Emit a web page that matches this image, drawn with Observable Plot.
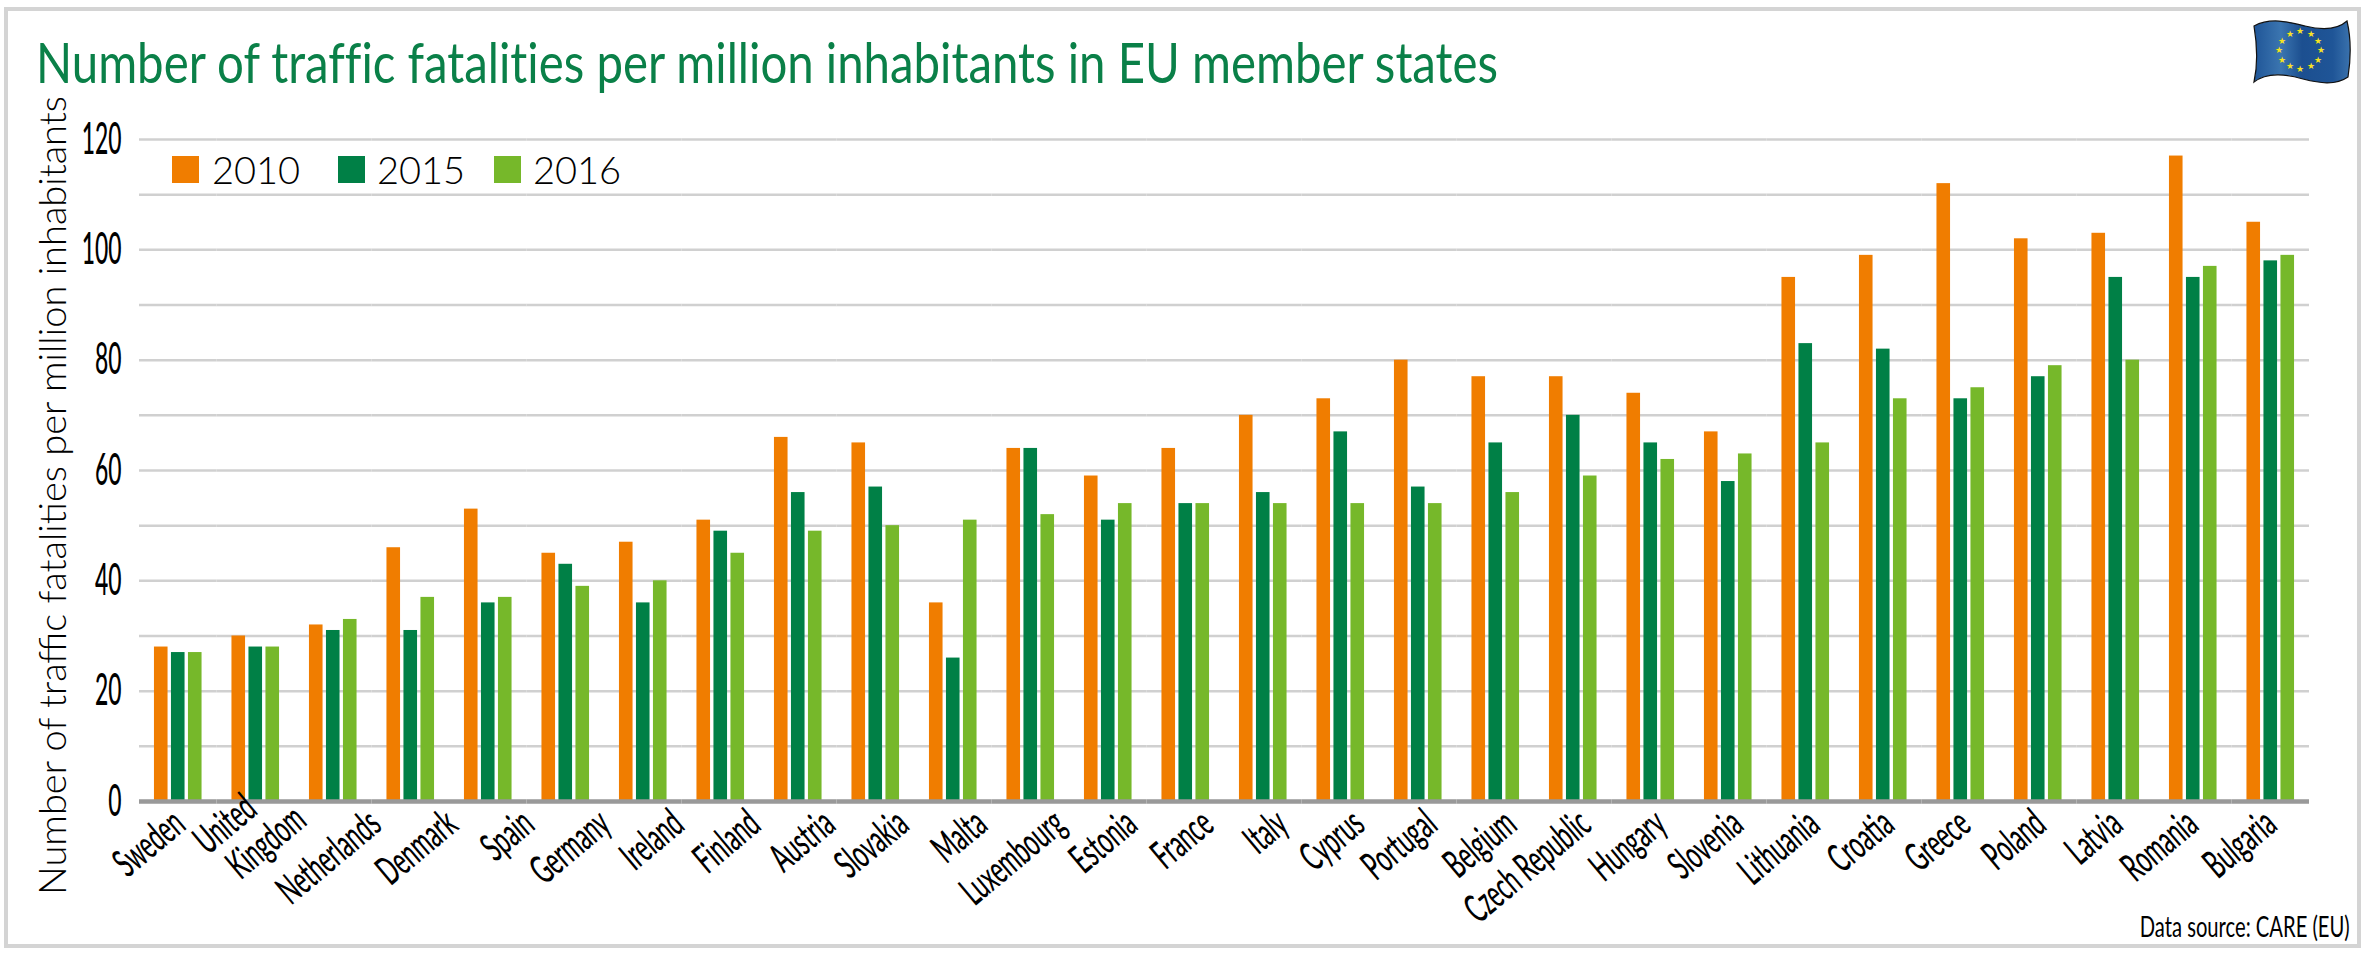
<!DOCTYPE html>
<html>
<head>
<meta charset="utf-8">
<script src="https://cdn.jsdelivr.net/npm/d3@7"></script>
<script src="https://cdn.jsdelivr.net/npm/@observablehq/plot@0.6"></script>
<style>
  html, body { margin: 0; background: #fff; }
  #page { position: relative; width: 2365px; height: 956px; overflow: hidden; font-family: Lato, sans-serif; }
  #frame { position: absolute; left: 4px; top: 7px; width: 2349px; height: 933px; border: 4px solid #d4d4d4; }
  #title { position: absolute; left: 36px; top: 28px; margin: 0; font-size: 56px; line-height: 68px; font-weight: 400; color: #0a8048; white-space: nowrap; transform-origin: left center; font-variant-ligatures: none; }
  #chart { position: absolute; left: 0; top: 100px; }
  #legend span { position: absolute; }
  #legend .sw { top: 156px; width: 27px; height: 27px; }
  #legend .lb { top: 146px; font-size: 38px; line-height: 46px; font-weight: 300; color: #000; }
  #source { position: absolute; right: 15px; top: 908px; font-size: 29px; line-height: 36px; color: #000; white-space: nowrap; transform-origin: right center; }
  #flag { position: absolute; left: 2253px; top: 20px; }
</style>
</head>
<body>
<div id="page">
  <div id="frame"></div>
  <h1 id="title">Number of traffic fatalities per million inhabitants in EU member states</h1>
  <div id="chart"></div>
  <div id="legend"></div>
  <div id="source">Data source: CARE (EU)</div>
  <svg id="flag" width="98" height="64" viewBox="0 0 98 64">
    <defs>
      <linearGradient id="flagFill">
        <stop offset="0" stop-color="#1f5597"/>
        <stop offset="0.28" stop-color="#3b75b0"/>
        <stop offset="0.5" stop-color="#1c4f90"/>
        <stop offset="0.82" stop-color="#1f5597"/>
        <stop offset="1" stop-color="#3a72ad"/>
      </linearGradient>
    </defs>
    <path d="M1 6 C18 -3 36 2 52 6 C68 10 84 10 94 1 C98 18 98 38 95 57 C82 66 66 63 50 59 C34 54 14 52 1 62 C5 44 4 24 1 6 Z" fill="url(#flagFill)" stroke="#111" stroke-width="1.2"/>
    <g id="stars" fill="#f5e322" font-size="9" text-anchor="middle"></g>
  </svg>
</div>
<script>
var countries = ["Sweden", "United\nKingdom", "Netherlands", "Denmark", "Spain", "Germany", "Ireland", "Finland", "Austria", "Slovakia", "Malta", "Luxembourg", "Estonia", "France", "Italy", "Cyprus", "Portugal", "Belgium", "Czech Republic", "Hungary", "Slovenia", "Lithuania", "Croatia", "Greece", "Poland", "Latvia", "Romania", "Bulgaria"];
var values2010 = [28, 30, 32, 46, 53, 45, 47, 51, 66, 65, 36, 64, 59, 64, 70, 73, 80, 77, 77, 74, 67, 95, 99, 112, 102, 103, 117, 105];
var values2015 = [27, 28, 31, 31, 36, 43, 36, 49, 56, 57, 26, 64, 51, 54, 56, 67, 57, 65, 70, 65, 58, 83, 82, 73, 77, 95, 95, 98];
var values2016 = [27, 28, 33, 37, 37, 39, 40, 45, 49, 50, 51, 52, 54, 54, 54, 54, 54, 56, 59, 62, 63, 65, 73, 75, 79, 80, 97, 99];
var years = ["2010", "2015", "2016"];
var colors = ["#f07d00", "#008046", "#76b82a"];
var gridValues = [10, 20, 30, 40, 50, 60, 70, 80, 90, 100, 110, 120];
var tickValues = [0, 20, 40, 60, 80, 100, 120];

var series = [values2010, values2015, values2016];
var rows = [];
countries.forEach(function (country, i) {
  years.forEach(function (year, j) {
    rows.push({ country: country, year: year, value: series[j][i] });
  });
});

var chart = Plot.plot({
  width: 2365,
  height: 856,
  marginTop: 39,
  marginRight: 56,
  marginBottom: 155,
  marginLeft: 139,
  style: { background: "transparent", overflow: "visible" },
  fx: { domain: countries, padding: 0, round: false, label: null },
  x: { domain: years, paddingInner: 0.2, paddingOuter: 0.88, round: false, axis: null },
  y: { domain: [0, 120], label: null },
  color: { domain: years, range: colors },
  marks: [
    Plot.ruleY(gridValues, { stroke: "#d0d0d0", strokeWidth: 2.5 }),
    Plot.barY(rows, { fx: "country", x: "year", y: "value", fill: "year" }),
    Plot.ruleY([0], { stroke: "#999", strokeWidth: 4.5 }),
    Plot.axisY({
      ticks: tickValues, label: null, tickSize: 0, tickPadding: 18,
      fontSize: 44, fontFamily: "Lato", fontWeight: 500, fill: "#000"
    }),
    Plot.axisFx({
      anchor: "bottom", label: null, tickSize: 0, tickRotate: -40, tickPadding: 17,
      fontSize: 40, fontFamily: "Lato", fontWeight: 500, fill: "#000"
    }),
    Plot.text(["Number of traffic fatalities per million inhabitants"], {
      frameAnchor: "left", textAnchor: "middle", rotate: -90, dx: -86, dy: 25, facet: "super",
      fontSize: 38, fontFamily: "Lato", fontWeight: 300, fill: "#000", ariaLabel: "y title"
    })
  ]
});
document.getElementById("chart").appendChild(chart);

// squeeze tick labels, no condensed face like the original is installed
function squeeze(label, k) {
  d3.select(chart).selectAll("g[aria-label='" + label + "'] text").attr("transform", function () {
    return (this.getAttribute("transform") || "") + " scale(" + k + ",1)";
  });
}
squeeze("y-axis tick label", 0.52);
squeeze("fx-axis tick label", 0.56);
squeeze("y title", 0.786);

// the original's labels drift against the bars, so nudge each one sideways (px)
var labelNudge = [1, 8, 42, 41, 40, 39, 35, 34, 31, 27, 28, 29, 23, 22, 19, 18, 13, 15, 12, 10, 9, 8, 5, 4, 2, 1, -1, 0];
d3.select(chart).selectAll("g[aria-label='fx-axis tick label'] text").attr("transform", function (d, i) {
  return "translate(" + labelNudge[i] + ",0) " + this.getAttribute("transform");
});
// second line of "United Kingdom" starts further along
d3.select(chart).selectAll("g[aria-label='fx-axis tick label'] tspan:nth-child(2)").attr("x", 55);

// legend
var legend = d3.select("#legend");
var swatchLeft = [172, 338, 494];
var labelLeft = [212, 377, 533];
years.forEach(function (year, i) {
  legend.append("span").attr("class", "sw").style("left", swatchLeft[i] + "px").style("background", colors[i]);
  legend.append("span").attr("class", "lb").style("left", labelLeft[i] + "px").text(year);
});

// fit the html text widths to the reference
function fitWidth(id, target) {
  var el = document.getElementById(id);
  el.style.transform = "scaleX(" + target / el.getBoundingClientRect().width + ")";
}
fitWidth("title", 1462);
fitWidth("source", 210);

// twelve stars on the flag
d3.range(12).forEach(function (i) {
  var a = i * Math.PI / 6;
  d3.select("#stars").append("text")
    .attr("x", 47 + 21 * Math.sin(a))
    .attr("y", 33 - 19 * Math.cos(a))
    .text("★");
});
</script>
</body>
</html>
